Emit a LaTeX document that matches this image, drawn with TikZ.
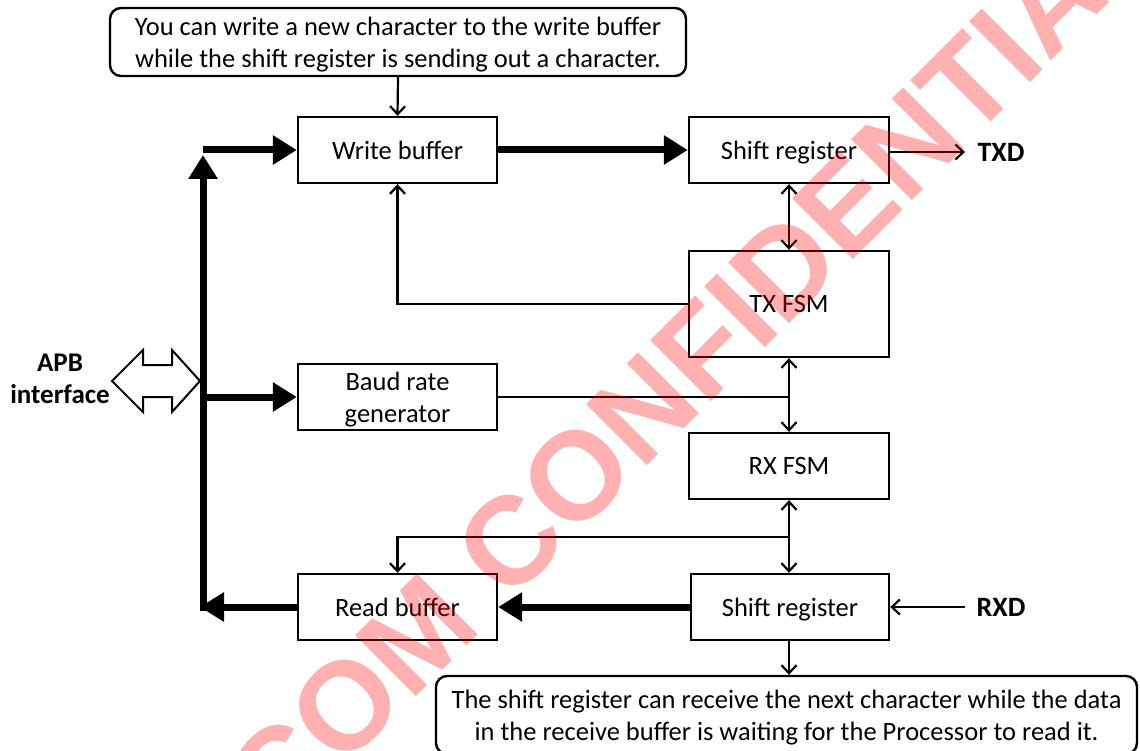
\documentclass[tikz,border=0pt]{standalone}
\usepackage{fontspec}
\setmainfont{Carlito}
\newfontfamily\wmfont{Liberation Sans}
\usetikzlibrary{arrows.meta}
\begin{document}
\begin{tikzpicture}[x=1pt,y=-1pt,
  blk/.style={draw, line width=2.4pt, inner sep=0pt, font=\fontsize{26.5}{32}\selectfont, align=center, text depth=0pt},
  note/.style={draw, line width=2.4pt, rounded corners=11pt, inner sep=0pt, font=\fontsize{26.5}{32}\selectfont, align=center, text depth=0pt},
  lbl/.style={inner sep=0pt, font=\bfseries\fontsize{28}{32}\selectfont, align=center},
  thin/.style={line width=2.2pt, -{Straight Barb[length=8pt,width=15pt,line width=2.2pt]}},
  thinboth/.style={line width=2.2pt, {Straight Barb[length=8pt,width=15pt,line width=2.2pt]}-{Straight Barb[length=8pt,width=15pt,line width=2.2pt]}},
  plain/.style={line width=2.2pt},
  fat/.style={line width=7pt, -{Triangle[length=24pt,width=28pt]}},
  bus/.style={line width=7pt}
]
\useasboundingbox (0,0) rectangle (1140,751);
\fill[white] (0,0) rectangle (1140,751);

% blocks
\node[blk, minimum width=199pt, minimum height=66pt] (wb)  at (397.5,150) {Write buffer};
\node[blk, minimum width=200pt, minimum height=66pt] (srt) at (789,150) {Shift register};
\node[blk, minimum width=200pt, minimum height=106pt] (txf) at (789,304) {TX FSM};
\node[blk, minimum width=199pt, minimum height=66pt] (brg) at (397.5,397) {Baud rate\\generator};
\node[blk, minimum width=200pt, minimum height=66pt] (rxf) at (789,466) {RX FSM};
\node[blk, minimum width=199pt, minimum height=66pt] (rb)  at (397.5,607) {Read buffer};
\node[blk, minimum width=198pt, minimum height=66pt] (srr) at (790,607) {Shift register};

% notes
\node[note, minimum width=576pt, minimum height=68pt] (n1) at (398,42)
  {You can write a new character to the write buffer\\while the shift register is sending out a character.};
\node[note, minimum width=701pt, minimum height=78pt] (n2) at (786.5,715)
  {The shift register can receive the next character while the data\\in the receive buffer is waiting for the Processor to read it.};

% labels
\node[lbl] (txd) at (1001,152) {TXD};
\node[lbl] (rxd) at (1001,607) {RXD};
\node[lbl, font=\bfseries\fontsize{27}{32}\selectfont] (apb) at (60,379) {APB\\interface};

\coordinate (txe) at (965,152);
\coordinate (rxs) at (965,607);
\coordinate (busT) at (203,150);
\coordinate (busTip) at (203,155);
\coordinate (busB) at (203,607);
\coordinate (busM) at (203,397);
\coordinate (busL) at (200,607);
\coordinate (split) at (789,537);

% thin connectors
\draw[thin] (n1.south) -- (wb.north);
\draw[thin] (srt.east |- txe) -- (txe);
\draw[thin] (rxs) -- (srr.east);
\draw[thinboth] (srt.south) -- (txf.north);
\draw[thin] (txf.west) -| (wb.south);
\draw[plain] (brg.east) -- (brg.east -| txf.south);
\draw[thinboth] (txf.south) -- (rxf.north);
\draw[thinboth] (rxf.south) -- (srr.north -| rxf.south);
\draw[thin] (split) -| (rb.north);
\draw[thin] (srr.south -| rxf.south) -- (n2.north -| rxf.south);

% fat connectors
\draw[fat] (wb.east) -- (srt.west);
\draw[fat] (srr.west) -- (rb.east);
\draw[fat] (rb.west) -- (busL);
\draw[fat, line cap=butt] ([yshift=-3.5pt]busB) -- (busTip);
\draw[fat] ([xshift=-0.5pt]busT) -- (wb.west);
\draw[fat] (busM) -- (brg.west);

% APB hollow double arrow
\draw[line width=2pt, line join=miter, fill=white]
  (112,381) -- (143,350) -- (143,365) -- (172,365) -- (172,350) -- (200,381)
  -- (172,412) -- (172,397) -- (143,397) -- (143,412) -- cycle;

% watermark
\begin{scope}
\clip (0,0) rectangle (1140,751);
\node[rotate=45, text=red, text opacity=0.31, inner sep=0pt,
  font=\wmfont\bfseries\fontsize{125}{125}\selectfont] (wm) at (692,360) {COM CONFIDENTIAL};
\end{scope}
\end{tikzpicture}
\end{document}
